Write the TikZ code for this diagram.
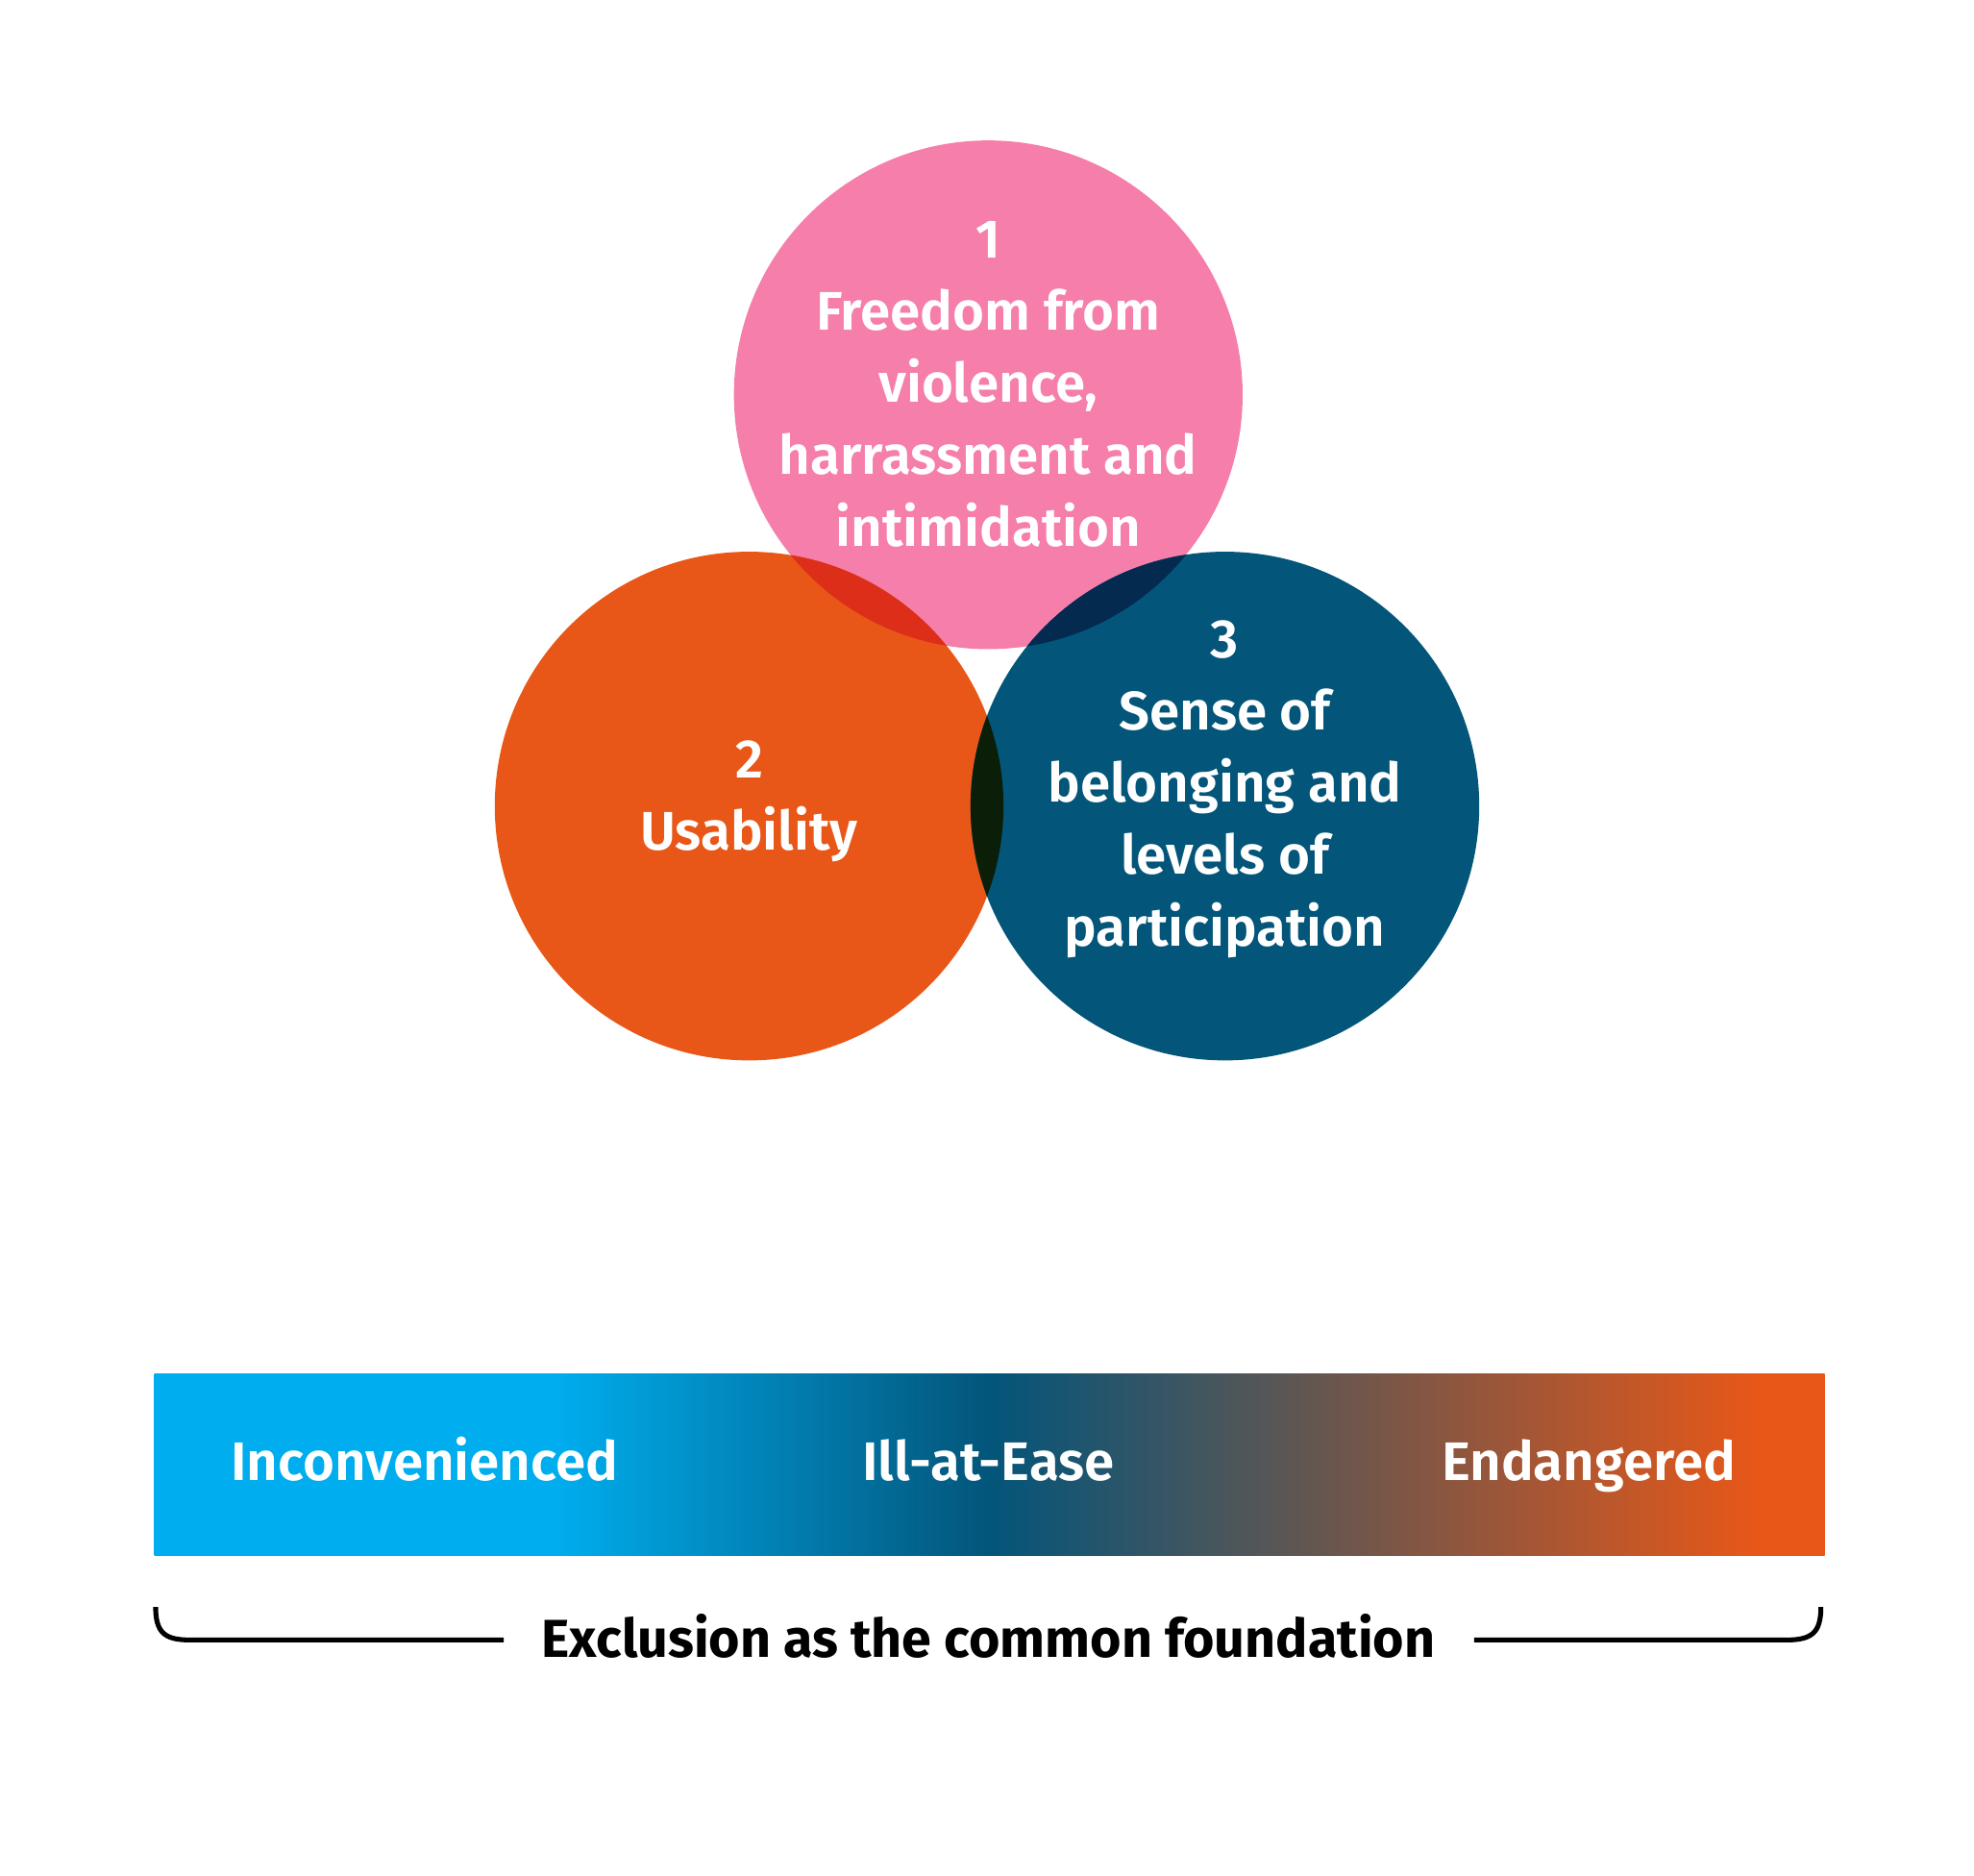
\documentclass[tikz,border=0pt]{standalone}
\usepackage{fontspec}
\setmainfont{Fira Sans}[UprightFont=* SemiBold,BoldFont=* Bold]
\definecolor{cpink}{HTML}{F57FAA}
\definecolor{corange}{HTML}{E85718}
\definecolor{cblue}{HTML}{03557A}
\definecolor{ccyan}{HTML}{00ADEE}
\definecolor{cred}{HTML}{DD2E1A}
\definecolor{cnavy}{HTML}{042A50}
\definecolor{cdark}{HTML}{0A1E08}
\pgfdeclarehorizontalshading{barshade}{100bp}{color(0bp)=(ccyan); color(37bp)=(ccyan); color(50bp)=(cblue); color(73bp)=(corange); color(100bp)=(corange)}
\begin{document}
\begin{tikzpicture}[x=0.01cm,y=-0.01cm,
  lbl/.style={text=white,font=\fontsize{12.2}{16.2}\selectfont,align=center},
  brk/.style={line width=1.1pt,black}]
\useasboundingbox (0,0) rectangle (1560,1482);
\fill[cpink] (781,312) circle (201);
\fill[corange] (592,637) circle (201);
\fill[cblue] (968,637) circle (201);
\begin{scope}\clip (781,312) circle (201); \fill[cred] (592,637) circle (201); \end{scope}
\begin{scope}\clip (781,312) circle (201); \fill[cnavy] (968,637) circle (201); \end{scope}
\begin{scope}\clip (592,637) circle (201); \fill[cdark] (968,637) circle (201); \end{scope}
\node[lbl] (t1) at (781,304) {1\\Freedom from\\violence,\\harrassment and\\intimidation};
\node[lbl] (t2) at (592,633) {2\\Usability};
\node[lbl] (t3) at (968,624) {3\\Sense of\\belonging and\\levels of\\participation};
\shade[shading=barshade] (122,1086) rectangle (1442,1229);
\node[lbl,anchor=base west] (a) at (170,1170) {Inconvenienced};
\node[lbl,anchor=base] (b) at (781,1170) {Ill-at-Ease};
\node[lbl,anchor=base east] (c) at (1384,1170) {Endangered};
\node[font=\fontsize{12}{13}\selectfont\bfseries,text=black,anchor=base] (f) at (781,1310) {Exclusion as the common foundation};
\draw[brk] (123,1270) .. controls (123,1290) and (130,1296) .. (150,1296) -- (398,1296);
\draw[brk] (1439,1270) .. controls (1439,1290) and (1432,1296) .. (1412,1296) -- (1165,1296);
\end{tikzpicture}
\end{document}
